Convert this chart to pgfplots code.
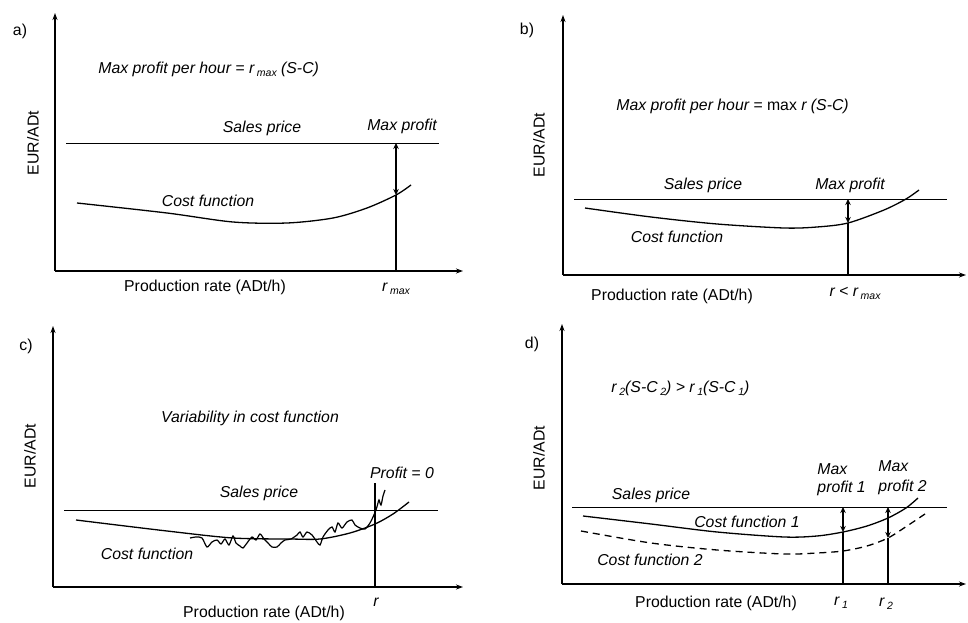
\documentclass[border=0pt]{standalone}
\usepackage{fontspec}
\setmainfont{Liberation Sans}
\usepackage{pgfplots}
\pgfplotsset{compat=1.18}
\usetikzlibrary{arrows.meta}
\newcommand\sub[1]{\,\raisebox{-3bp}{\fontsize{10.5bp}{11bp}\selectfont #1}}
\pgfplotsset{panel/.style={x=1bp,y=1bp, axis lines=left, xtick=\empty, ytick=\empty, clip=false, anchor=south west,
  axis line style={line width=1.5bp, -{Stealth[length=7bp,width=5bp]}},
  every axis plot/.append style={black, mark=none}}}
\tikzset{dbl/.style={line width=1.3bp, {Stealth[length=6bp,width=5.5bp]}-{Stealth[length=6bp,width=5.5bp]}},
  cost/.style={line width=1.3bp, smooth},
  sales/.style={line width=0.9bp}}
\begin{document}
\fontsize{15.8bp}{19bp}\selectfont
\begin{tikzpicture}
\path[use as bounding box] (0,0) rectangle (968bp,623bp);
% ---------------- a)
\begin{axis}[panel, at={(55bp,352bp)}, xmin=55, xmax=463, ymin=352, ymax=610]
\addplot[sales] coordinates {(66,480) (439,480)};
\addplot[cost] coordinates {(77,420) (167,410) (233,401) (287,400) (333,405) (367,415) (396,428) (411,438)};
\addplot[line width=1.3bp] coordinates {(396,352) (396,428)};
\addplot[dbl] coordinates {(396,428) (396,480)};
\node at (axis cs:20,592) {a)};
\node[anchor=west] at (axis cs:93,554) {\itshape Max profit per hour = r\sub{max} (S-C)};
\node at (axis cs:262,495) {\itshape Sales price};
\node at (axis cs:402,497) {\itshape Max profit};
\node at (axis cs:208,422) {\itshape Cost function};
\node at (axis cs:396,334) {\itshape r\sub{max}};
\node at (axis cs:205,336) {Production rate (ADt/h)};
\node[rotate=90] at (axis cs:33,480) {EUR/ADt};
\end{axis}
% ---------------- b)
\begin{axis}[panel, at={(563bp,348bp)}, xmin=563, xmax=966, ymin=348, ymax=608]
\addplot[sales] coordinates {(574,424) (947,424)};
\addplot[cost] coordinates {(585,415) (651,406) (717,399) (784,395) (817,396) (848,400) (884,413) (906,424) (919,433)};
\addplot[line width=1.3bp] coordinates {(848,348) (848,400)};
\addplot[dbl] coordinates {(848,400) (848,424)};
\node at (axis cs:527,593) {b)};
\node[anchor=west] at (axis cs:611,517) {\itshape Max profit per hour = \upshape max \itshape r (S-C)};
\node at (axis cs:703,438) {\itshape Sales price};
\node at (axis cs:850,438) {\itshape Max profit};
\node at (axis cs:677,386) {\itshape Cost function};
\node at (axis cs:855,330) {\itshape r < r\sub{max}};
\node at (axis cs:672,327) {Production rate (ADt/h)};
\node[rotate=90] at (axis cs:539,478) {EUR/ADt};
\end{axis}
% ---------------- c)
\begin{axis}[panel, at={(53bp,36bp)}, xmin=53, xmax=463, ymin=36, ymax=297]
\addplot[sales] coordinates {(64,113) (438,113)};
\addplot[cost] coordinates {(76,103) (167,92) (233,85) (290,84) (320,84) (350,90) (375,99) (393,109) (409,121)};
\addplot[line width=1.3bp] coordinates {(375,36) (375,140)};
\addplot[line width=1.2bp, smooth, tension=0.45] coordinates {
(190,85) (196,86) (202,85) (207,76) (212,81) (217,83) (221,79) (225,84) (229,78) (233,87)
(236,80) (240,77) (243,75) (247,80) (252,86) (256,83) (260,89) (264,84) (268,80) (272,76)
(277,76) (281,80) (285,83) (291,84) (297,88) (300,91) (303,86) (307,91) (312,88) (317,81)
(320,78) (323,86) (328,93) (332,96) (335,91) (338,100) (342,95) (347,101) (352,103) (355,98)
(360,95) (365,94) (370,100) (373,106) (376,113) (378,120) (379,123) (381,118) (383,127) (385,133)};
\node at (axis cs:26,277) {c)};
\node at (axis cs:250,205) {\itshape Variability in cost function};
\node at (axis cs:259,130) {\itshape Sales price};
\node at (axis cs:402,150) {\itshape Profit = 0};
\node at (axis cs:147,69) {\itshape Cost function};
\node at (axis cs:376,21) {\itshape r};
\node at (axis cs:264,10) {Production rate (ADt/h)};
\node[rotate=90] at (axis cs:30,167) {EUR/ADt};
\end{axis}
% ---------------- d)
\begin{axis}[panel, at={(562bp,39bp)}, xmin=562, xmax=966, ymin=39, ymax=299]
\addplot[sales] coordinates {(572,116) (947,116)};
\addplot[cost] coordinates {(583,107) (651,99) (717,91) (784,86) (817,87) (843,91) (867,97) (888,105) (906,115) (918,125)};
\addplot[cost, dashed, dash pattern=on 7bp off 5bp] coordinates {(581,92) (651,80) (717,73) (784,69) (817,70) (843,72) (867,77) (888,85) (907,97) (925,109)};
\addplot[line width=1.3bp] coordinates {(843,39) (843,91)};
\addplot[dbl] coordinates {(843,91) (843,116)};
\addplot[line width=1.3bp] coordinates {(888,39) (888,85)};
\addplot[dbl] coordinates {(888,85) (888,116)};
\node at (axis cs:532,279) {d)};
\node[anchor=west] at (axis cs:606,235) {\itshape r\sub{2}(S-C\sub{2}) > r\sub{1}(S-C\sub{1})};
\node at (axis cs:651,128) {\itshape Sales price};
\node at (axis cs:747,101) {\itshape Cost function 1};
\node at (axis cs:650,63) {\itshape Cost function 2};
\node[anchor=west] at (axis cs:812,154) {\itshape Max};
\node[anchor=west] at (axis cs:812,135) {\itshape profit 1};
\node[anchor=west] at (axis cs:873,157) {\itshape Max};
\node[anchor=west] at (axis cs:873,136) {\itshape profit 2};
\node at (axis cs:841,20) {\itshape r\sub{1}};
\node at (axis cs:886,19) {\itshape r\sub{2}};
\node at (axis cs:716,20) {Production rate (ADt/h)};
\node[rotate=90] at (axis cs:539,165) {EUR/ADt};
\end{axis}
\end{tikzpicture}
\end{document}
